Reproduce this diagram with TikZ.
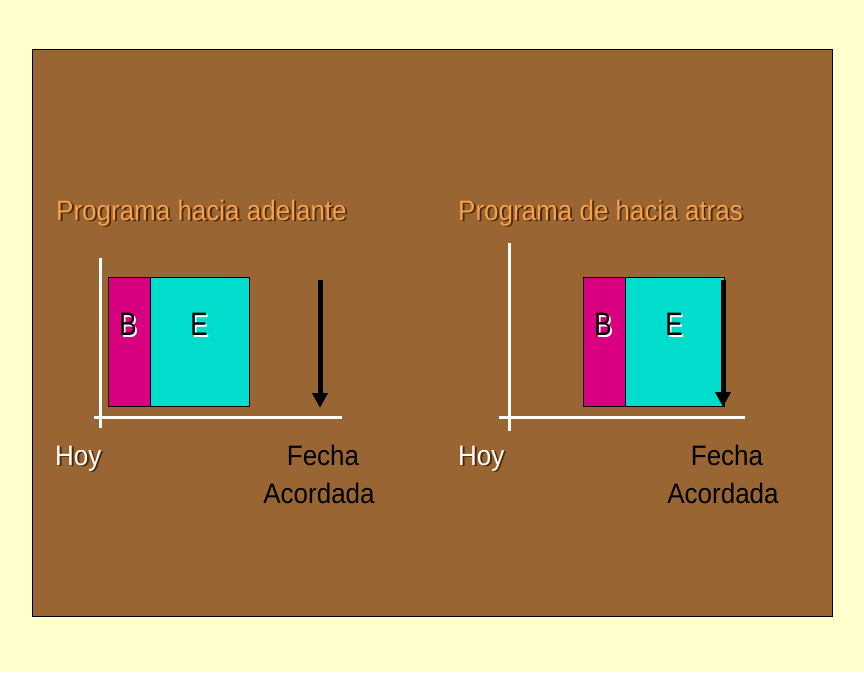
\documentclass[tikz,border=0pt]{standalone}
\usepackage{fontspec}
\setmainfont{Liberation Sans}
\usetikzlibrary{arrows.meta}
\definecolor{fondo}{HTML}{FFFFCC}
\definecolor{cafe}{HTML}{996633}
\definecolor{sombra}{HTML}{4A2A0A}
\definecolor{titulo}{HTML}{F7A04A}
\definecolor{magenta}{HTML}{D9007F}
\definecolor{turquesa}{HTML}{00DDCC}
% texto con sombra: color sombra, color texto, texto
\newcommand{\conSombra}[3]{\makebox[0pt][l]{\hspace{1.8pt}\raisebox{-1.8pt}{\color{#1}#3}}{\color{#2}#3}}
\newcommand{\alto}[2]{\scalebox{1}[#1]{#2}}
\tikzset{
  eje/.style={white,line width=3pt},
  caja/.style={draw=black,line width=0.8pt},
  flecha/.style={black,line width=5pt,-{Triangle[width=15pt,length=15pt]}},
  letra/.style={inner sep=0pt,font=\fontsize{26}{30}\selectfont}
}
\begin{document}
\begin{tikzpicture}[x=1pt,y=-1pt,line join=miter]
	\fill[fondo] (0,0) rectangle (864,672);
	\draw[fill=cafe,line width=0.8pt] (32,49) rectangle (832,616);
	% panel izquierdo
	\node[letra,anchor=base west] (tituloIzq) at (56,220) {\alto{1.08}{\conSombra{sombra}{titulo}{Programa hacia adelante}}};
	\draw[caja,fill=magenta] (108,277) rectangle (150,406);
	\draw[caja,fill=turquesa] (150,277) rectangle (249,406);
	\node[letra] (bIzq) at (128,325) {\alto{1.25}{\conSombra{white}{black}{B}}};
	\node[letra] (eIzq) at (199,325) {\alto{1.25}{\conSombra{white}{black}{E}}};
	\draw[eje] (100,258) -- (100,428);
	\draw[eje] (94,417) -- (342,417);
	\coordinate (iniIzq) at (320,280);
	\coordinate (finIzq) at (320,408);
	\draw[flecha] (iniIzq) -- (finIzq);
	\node[letra,anchor=base west] (hoyIzq) at (55,465) {\alto{1.08}{\conSombra{sombra}{white}{Hoy}}};
	\node[letra,anchor=base] (fechaIzq) at (323,465) {\alto{1.08}{Fecha}};
	\node[letra,anchor=base] (acordIzq) at (319,503) {\alto{1.08}{Acordada}};
	% panel derecho
	\node[letra,anchor=base west] (tituloDer) at (458,220) {\alto{1.08}{\conSombra{sombra}{titulo}{Programa de hacia atras}}};
	\draw[caja,fill=magenta] (583,277) rectangle (625,406);
	\draw[caja,fill=turquesa] (625,277) rectangle (724,406);
	\node[letra] (bDer) at (603,325) {\alto{1.25}{\conSombra{white}{black}{B}}};
	\node[letra] (eDer) at (674,325) {\alto{1.25}{\conSombra{white}{black}{E}}};
	\draw[eje] (509,243) -- (509,431);
	\draw[eje] (499,417) -- (745,417);
	\coordinate (iniDer) at (723,280);
	\coordinate (finDer) at (723,407);
	\draw[flecha] (iniDer) -- (finDer);
	\node[letra,anchor=base west] (hoyDer) at (458,465) {\alto{1.08}{\conSombra{sombra}{white}{Hoy}}};
	\node[letra,anchor=base] (fechaDer) at (727,465) {\alto{1.08}{Fecha}};
	\node[letra,anchor=base] (acordDer) at (723,503) {\alto{1.08}{Acordada}};
\end{tikzpicture}
\end{document}
